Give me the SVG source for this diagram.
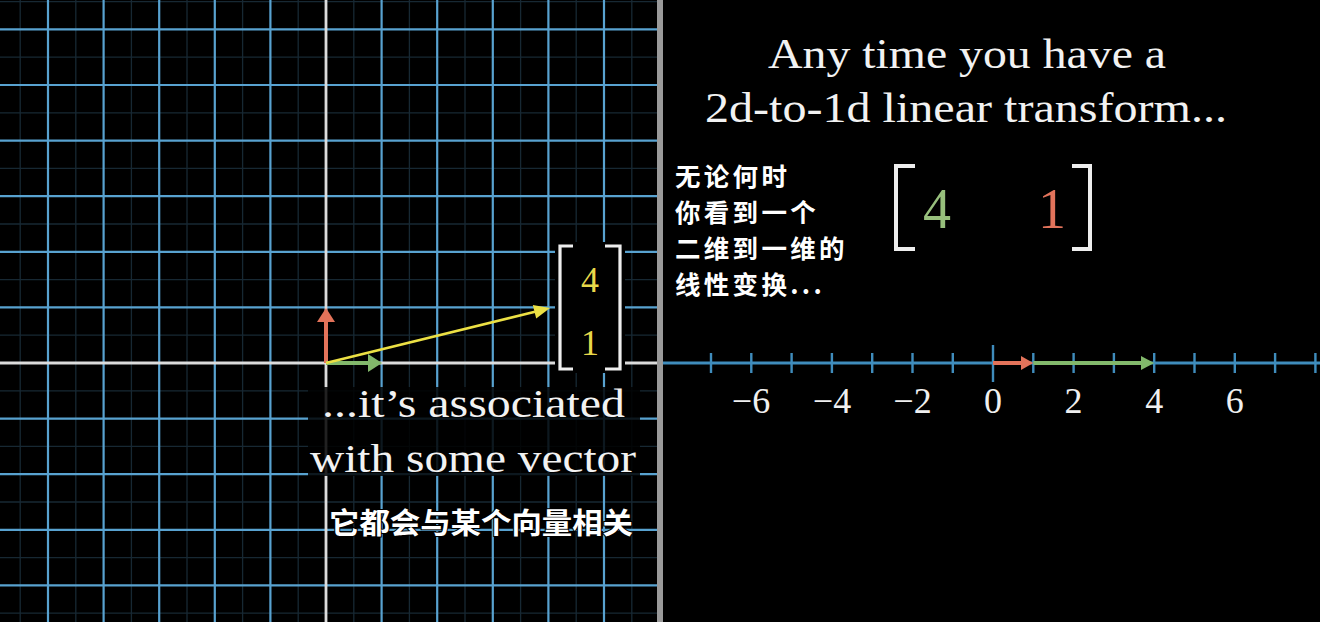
<svg xmlns="http://www.w3.org/2000/svg" width="1320" height="622" viewBox="0 0 1320 622">
<style>
.minor{stroke:#172833;stroke-width:1.3;fill:none}
.major{stroke:#58a2d0;stroke-width:2.2;fill:none}
.axis{stroke:#dcdcdc;stroke-width:2.8;fill:none}
.en{font-family:"Liberation Serif","DejaVu Serif",serif;fill:#f2f2f2}
.zh{font-family:"Noto Sans CJK SC","Noto Sans",sans-serif;font-weight:bold;fill:#ffffff;stroke:#000;stroke-width:2;paint-order:stroke}
.brk{stroke:#eeeeee;stroke-width:3.2;fill:none}
.nl{stroke:#3f8cbc;stroke-width:3;fill:none}
.tick{stroke:#3f8cbc;stroke-width:2.4;fill:none}
.lbl{font-family:"Liberation Serif","DejaVu Serif",serif;font-size:36px;fill:#f0f0f0;text-anchor:middle}
</style>
<rect width="1320" height="622" fill="#000"/>
<g id="grid">
<path class="minor" d="M20.2 0V622M75.8 0V622M131.4 0V622M187 0V622M242.6 0V622M298.2 0V622M353.8 0V622M409.4 0V622M465 0V622M520.6 0V622M576.2 0V622M631.8 0V622M0 1.6H657M0 57.2H657M0 112.8H657M0 168.4H657M0 224H657M0 279.6H657M0 335.2H657M0 390.8H657M0 446.4H657M0 502H657M0 557.6H657M0 613.2H657"/>
<path class="major" d="M48 0V622M103.6 0V622M159.2 0V622M214.8 0V622M270.4 0V622M381.6 0V622M437.2 0V622M492.8 0V622M548.4 0V622M604 0V622M0 29.4H657M0 85H657M0 140.6H657M0 196.2H657M0 251.8H657M0 307.4H657M0 418.6H657M0 474.2H657M0 529.8H657M0 585.4H657"/>
<path class="axis" d="M326 0V622M0 363H657"/>
</g>
<g id="divider"><rect x="657" y="0" width="6" height="622" fill="#9a9a9a"/></g>
<g id="connectors">
<g id="vec-i"><line x1="326" y1="363" x2="326" y2="321" stroke="#e3735a" stroke-width="4"/><polygon points="326,308 335,322 317,322" fill="#e3735a"/></g>
<g id="vec-j"><line x1="326" y1="363" x2="369" y2="363" stroke="#82b86b" stroke-width="4"/><polygon points="382,363 368,354 368,372" fill="#82b86b"/></g>
<g id="vec-v"><line x1="326" y1="363" x2="535" y2="311.7" stroke="#ece044" stroke-width="2.6"/><polygon points="550,308 536.2,318.6 532.8,305" fill="#ece044"/></g>
</g>
<g id="matrix-left">
<rect x="555" y="242" width="70" height="131" fill="#000"/>
<path class="brk" d="M573 246H560V369H573M605 246H620V369H605"/>
<text class="en" x="590" y="292" font-size="36" text-anchor="middle" style="fill:#e8d84a">4</text>
<text class="en" x="590" y="355" font-size="36" text-anchor="middle" style="fill:#e8d84a">1</text>
</g>
<g id="caption-left">
<rect x="308" y="387" width="332" height="89" fill="#000" fill-opacity="0.85"/>
<text class="en" x="473.5" y="417" font-size="40" text-anchor="middle" textLength="303" lengthAdjust="spacingAndGlyphs">...it’s associated</text>
<text class="en" x="473" y="472" font-size="40" text-anchor="middle" textLength="326" lengthAdjust="spacingAndGlyphs">with some vector</text>
</g>
<g id="subtitle-left">
<text class="zh" x="329" y="534" font-size="29" textLength="304" lengthAdjust="spacingAndGlyphs">它都会与某个向量相关</text>
</g>
<g id="caption-right">
<text class="en" x="967" y="68" font-size="42" text-anchor="middle" textLength="398" lengthAdjust="spacingAndGlyphs">Any time you have a</text>
<text class="en" x="966" y="122" font-size="42" text-anchor="middle" textLength="522" lengthAdjust="spacingAndGlyphs">2d-to-1d linear transform...</text>
</g>
<g id="subtitle-right">
<text class="zh" x="675" y="186" font-size="25.5" letter-spacing="3.3">无论何时</text>
<text class="zh" x="675" y="222" font-size="25.5" letter-spacing="3.3">你看到一个</text>
<text class="zh" x="675" y="258" font-size="25.5" letter-spacing="3.3">二维到一维的</text>
<text class="zh" x="675" y="294" font-size="25.5" letter-spacing="3.3">线性变换...</text>
</g>
<g id="matrix-right">
<path class="brk" style="stroke-width:4" d="M915 166H896V249H915M1072 166H1090V249H1072"/>
<text class="en" x="937" y="228" font-size="56" text-anchor="middle" style="fill:#97bf7c">4</text>
<text class="en" x="1052" y="228" font-size="56" text-anchor="middle" style="fill:#e2735b">1</text>
</g>
<g id="number-line">
<path class="nl" d="M663 363H1320"/>
<path class="tick" d="M711 353V373M751.3 353V373M791.6 353V373M831.9 353V373M872.2 353V373M912.5 353V373M952.8 353V373M1033.3 353V373M1073.6 353V373M1113.9 353V373M1154.2 353V373M1194.5 353V373M1234.8 353V373M1275.1 353V373M1315.4 353V373"/>
<path class="tick" d="M993 345V382"/>
<text class="lbl" x="751" y="413">−6</text>
<text class="lbl" x="832" y="413">−4</text>
<text class="lbl" x="912.5" y="413">−2</text>
<text class="lbl" x="993" y="413">0</text>
<text class="lbl" x="1073.6" y="413">2</text>
<text class="lbl" x="1154.2" y="413">4</text>
<text class="lbl" x="1234.8" y="413">6</text>
</g>
<g id="line-vectors">
<line x1="993" y1="363" x2="1022" y2="363" stroke="#e3735a" stroke-width="4"/><polygon points="1033.3,363 1021,356 1021,370" fill="#e3735a"/>
<line x1="1033.3" y1="363" x2="1142" y2="363" stroke="#82b86b" stroke-width="4"/><polygon points="1154.2,363 1141,356 1141,370" fill="#82b86b"/>
</g>
</svg>
